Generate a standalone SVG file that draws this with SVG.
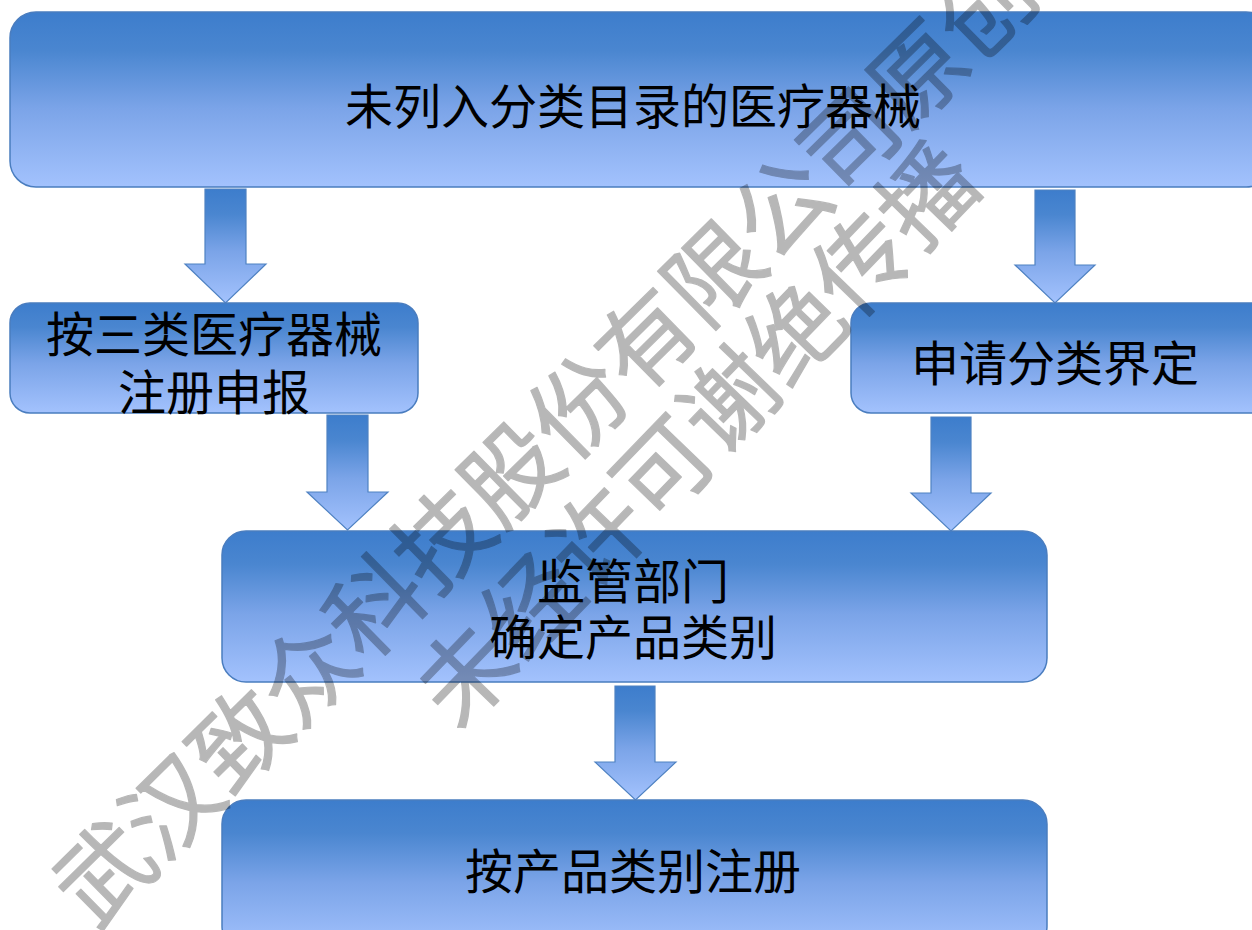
<svg xmlns="http://www.w3.org/2000/svg" width="1252" height="930" viewBox="0 0 1252 930">
<defs>
<linearGradient id="g" x1="0" y1="0" x2="0" y2="1">
<stop offset="0" stop-color="#3d7dcc"/>
<stop offset="0.22" stop-color="#4a86d0"/>
<stop offset="0.55" stop-color="#7ba4e8"/>
<stop offset="1" stop-color="#a3c2fd"/>
</linearGradient>
<style>
.box{fill:url(#g);stroke:#4a7dbf;stroke-width:1.5}
.arr{fill:url(#g);stroke:#4f82c2;stroke-width:1.2}
.t{font-family:"Noto Sans CJK SC","Noto Sans CJK TC",sans-serif;font-size:48px;fill:#000;text-anchor:middle;dominant-baseline:central}
.wm{font-family:"Noto Sans CJK SC",sans-serif;font-size:95px;fill:#000;stroke:#000;stroke-width:1.2;stroke-linejoin:round;text-anchor:middle;dominant-baseline:central}
</style>
</defs>
<rect width="1252" height="930" fill="#fff"/>
<g id="connectors">
<path class="arr" d="M205,189 H246 V264 H266 L225.5,303 L185,264 H205 Z"/>
<path class="arr" d="M1035,190 H1075 V265 H1095 L1055,303 L1015,265 H1035 Z"/>
<path class="arr" d="M327,415 H368 V492 H388 L347.5,530 L307,492 H327 Z"/>
<path class="arr" d="M931,417 H971 V493 H991 L951,531 L911,493 H931 Z"/>
<path class="arr" d="M615,686 H655 V762 H676 L635.5,800 L595,762 H615 Z"/>
</g>
<g id="n1">
<rect class="box" x="10" y="12" width="1262" height="175" rx="26"/>
<text class="t" x="633" y="103">未列入分类目录的医疗器械</text>
</g>
<g id="n2">
<rect class="box" x="10" y="303" width="408" height="110" rx="20"/>
<text class="t" x="214" y="331">按三类医疗器械</text>
<text class="t" x="214" y="389">注册申报</text>
</g>
<g id="n3">
<rect class="box" x="851" y="303" width="420" height="110" rx="20"/>
<text class="t" x="1055" y="360">申请分类界定</text>
</g>
<g id="n4">
<rect class="box" x="222" y="531" width="825" height="151" rx="24"/>
<text class="t" x="633" y="578">监管部门</text>
<text class="t" x="633" y="634">确定产品类别</text>
</g>
<g id="n5">
<rect class="box" x="222" y="800" width="825" height="150" rx="24"/>
<text class="t" x="633" y="868">按产品类别注册</text>
</g>
<g id="watermark" opacity="0.28">
<text class="wm" transform="translate(540,435) rotate(-44.5)">武汉致众科技股份有限公司原创</text>
<text class="wm" transform="translate(692,430) rotate(-46)">未经许可谢绝传播</text>
</g>
</svg>
